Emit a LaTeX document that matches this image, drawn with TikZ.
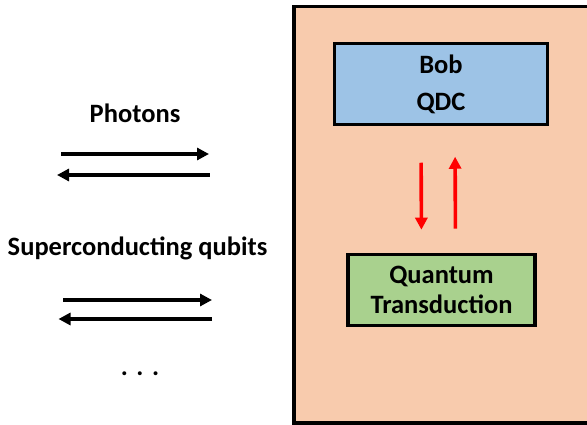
\documentclass[tikz,border=0pt]{standalone}
\usepackage{fontspec}
\setmainfont{Carlito}
\usetikzlibrary{arrows.meta}
\definecolor{peach}{HTML}{F8CBAD}
\definecolor{bobblue}{HTML}{9DC3E6}
\definecolor{qdgreen}{HTML}{A9D18E}
\tikzset{
  lbl/.style={font=\fontsize{26.5}{30}\selectfont\bfseries},
  blkarr/.style={-{Triangle[length=12pt,width=12pt]}, line width=3.2pt},
  redarr/.style={-{Triangle[length=12pt,width=12pt]}, line width=3.6pt, red},
  unitbox/.style={draw, align=center, inner sep=0pt, lbl}
}
\begin{document}
\begin{tikzpicture}[x=1pt, y=-1pt]
    \useasboundingbox (0,0) rectangle (587,425);
    \clip (0,0) rectangle (587,425);
    \draw[fill=peach, line width=3.6pt] (294,6.5) rectangle (610,423);
    \node[unitbox, fill=bobblue, line width=3pt, minimum width=213pt, minimum height=80.5pt,
          font=\fontsize{26.5}{37}\selectfont\bfseries] (bob) at (441,84) {Bob\\QDC};
    \node[unitbox, fill=qdgreen, line width=3.6pt, minimum width=187pt, minimum height=71pt] (qt) at (441.5,290) {Quantum\\Transduction};
    \draw[redarr, shorten <=37pt, shorten >=23pt] ([xshift=-20pt]bob.south) -- ([xshift=-20pt]qt.north);
    \draw[redarr, shorten <=24pt, shorten >=31pt] ([xshift=14pt]qt.north) -- ([xshift=14pt]bob.south);
    \node[lbl, anchor=base] (photons) at (135,123) {Photons};
    \node[lbl, anchor=base] (squbits) at (137.5,255) {Superconducting qubits};
    \node[lbl, anchor=base] (more) at (140,375) {.\hspace{8.5pt}.\hspace{8.5pt}.};
    \coordinate (pa) at (61,154);
    \coordinate (pb) at (209,154);
    \coordinate (pc) at (209.5,175);
    \coordinate (pd) at (57,175);
    \coordinate (sa) at (63,300);
    \coordinate (sb) at (212,300);
    \coordinate (sc) at (212,319);
    \coordinate (sd) at (58.5,319);
    \draw[blkarr] (pa) -- (pb);
    \draw[blkarr] (pc) -- (pd);
    \draw[blkarr] (sa) -- (sb);
    \draw[blkarr] (sc) -- (sd);
\end{tikzpicture}
\end{document}
